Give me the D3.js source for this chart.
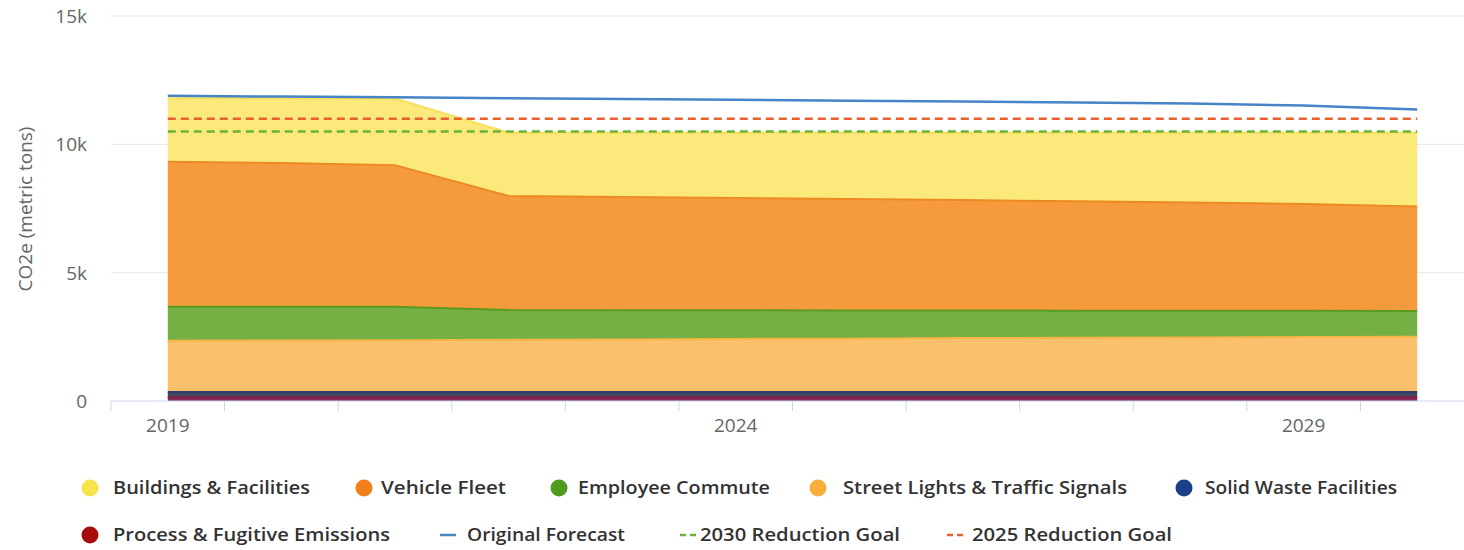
<!DOCTYPE html>
<html>
<head>
<meta charset="utf-8">
<script src="https://cdn.jsdelivr.net/npm/d3@7/dist/d3.min.js"></script>
<style>
  html, body { margin: 0; padding: 0; background: #fff; }
  svg { display: block; font-family: "Open Sans", "DejaVu Sans", sans-serif; }
</style>
</head>
<body>
<script>
// Data (thousand metric tons CO2e)
const years = [2019, 2020, 2021, 2022, 2023, 2024, 2025, 2026, 2027, 2028, 2029, 2030];
const yearLabels = [2019, 2024, 2029];

const buildings    = [2.48, 2.53, 2.60, 2.46, 2.50, 2.54, 2.58, 2.62, 2.67, 2.72, 2.77, 2.87];
const vehicleFleet = [5.65, 5.60, 5.52, 4.44, 4.41, 4.37, 4.34, 4.30, 4.26, 4.21, 4.16, 4.07];
const commute      = [1.32, 1.31, 1.30, 1.16, 1.14, 1.12, 1.10, 1.08, 1.06, 1.05, 1.03, 1.01];
const streetLights = [2.00, 2.01, 2.02, 2.04, 2.05, 2.07, 2.08, 2.10, 2.11, 2.12, 2.14, 2.15];
const solidWaste   = [0.20, 0.20, 0.20, 0.20, 0.20, 0.20, 0.20, 0.20, 0.20, 0.20, 0.20, 0.20];
const processEm    = [0.15, 0.15, 0.15, 0.15, 0.15, 0.15, 0.15, 0.15, 0.15, 0.15, 0.15, 0.15];

const originalForecast = [11.89, 11.86, 11.83, 11.80, 11.77, 11.74, 11.70, 11.67, 11.63, 11.59, 11.51, 11.36];
const goal2030 = [10.5, 10.5, 10.5, 10.5, 10.5, 10.5, 10.5, 10.5, 10.5, 10.5, 10.5, 10.5];
const goal2025 = [11.0, 11.0, 11.0, 11.0, 11.0, 11.0, 11.0, 11.0, 11.0, 11.0, 11.0, 11.0];

const yTicks = [0, 5, 10, 15];

// series config, bottom of stack first
const areaSeries = [
  { key: "process",      name: "Process & Fugitive Emissions",   values: processEm,    fill: "#7e2d5c", line: "#8a1c40", legend: "#a50d0d" },
  { key: "solidWaste",   name: "Solid Waste Facilities",         values: solidWaste,   fill: "#3e4a64", line: "#2c3f6c", legend: "#1d3f8a" },
  { key: "streetLights", name: "Street Lights & Traffic Signals", values: streetLights, fill: "#fbc06b", line: "#f8b447", legend: "#f7ae3b" },
  { key: "commute",      name: "Employee Commute",               values: commute,      fill: "#74b044", line: "#5b9a1e", legend: "#4f9b1d" },
  { key: "vehicle",      name: "Vehicle Fleet",                  values: vehicleFleet, fill: "#f59a3d", line: "#ec8a24", legend: "#f07e1b" },
  { key: "buildings",    name: "Buildings & Facilities",         values: buildings,    fill: "#fbe97b", line: "#f6df5a", legend: "#f8e34c" }
];

const lineSeries = [
  { name: "Original Forecast",   values: originalForecast, color: "#4684c6", dash: null },
  { name: "2030 Reduction Goal", values: goal2030,         color: "#6cb23a", dash: "8,5" },
  { name: "2025 Reduction Goal", values: goal2025,         color: "#e8602f", dash: "8,5" }
];

const width = 1464, height = 550;
const plotLeft = 111, plotRight = 1474, plotTop = 16, plotBottom = 401;

const svg = d3.select("body").append("svg")
  .attr("width", width)
  .attr("height", height);

const x = d3.scaleBand().domain(years).range([plotLeft, plotRight]);
const cx = d => x(d) + x.bandwidth() / 2;
const y = d3.scaleLinear().domain([0, 15]).range([plotBottom, plotTop]);

// gridlines
svg.append("g")
  .selectAll("line")
  .data(yTicks.filter(t => t > 0))
  .join("line")
  .attr("x1", plotLeft).attr("x2", width)
  .attr("y1", d => y(d)).attr("y2", d => y(d))
  .attr("stroke", "#e6e6e6").attr("stroke-width", 1);

// y axis labels
const yAxis = d3.axisLeft(y).tickValues(yTicks).tickSize(0).tickPadding(0)
  .tickFormat(d => d === 0 ? "0" : d + "k");
svg.append("g")
  .attr("transform", "translate(87,0)")
  .call(yAxis)
  .call(g => g.select(".domain").remove())
  .call(g => g.selectAll("text")
    .attr("fill", "#666").attr("font-size", 19).attr("dy", "0.35em")
    .style("font-family", "'Open Sans', sans-serif"));

// y axis title
svg.append("text")
  .attr("transform", "translate(32,209) rotate(-90)")
  .attr("text-anchor", "middle")
  .attr("fill", "#666")
  .attr("font-size", 19)
  .text("CO2e (metric tons)");

// stacked areas
const table = years.map((yr, i) => {
  const row = { year: yr };
  areaSeries.forEach(s => { row[s.key] = s.values[i]; });
  return row;
});
const stack = d3.stack().keys(areaSeries.map(s => s.key));
const layers = stack(table);

const area = d3.area()
  .x(d => cx(d.data.year))
  .y0(d => y(d[0]))
  .y1(d => y(d[1]));
const topLine = d3.line()
  .x(d => cx(d.data.year))
  .y(d => y(d[1]));

const gAreas = svg.append("g");
layers.forEach((layer, i) => {
  gAreas.append("path")
    .datum(layer)
    .attr("d", area)
    .attr("fill", areaSeries[i].fill);
});
layers.forEach((layer, i) => {
  gAreas.append("path")
    .datum(layer)
    .attr("d", topLine)
    .attr("fill", "none")
    .attr("stroke", areaSeries[i].line)
    .attr("stroke-width", 2);
});

// x axis
const xAxisG = svg.append("g").attr("transform", `translate(0,${plotBottom})`);
xAxisG.append("line")
  .attr("x1", plotLeft).attr("x2", width)
  .attr("stroke", "#ccd6eb").attr("stroke-width", 1);
const tickXs = years.map(yr => x(yr)).concat([plotRight]);
xAxisG.selectAll("line.tick")
  .data(tickXs)
  .join("line")
  .attr("class", "tick")
  .attr("x1", d => d).attr("x2", d => d)
  .attr("y1", 0).attr("y2", 10)
  .attr("stroke", "#ccd6eb");
xAxisG.selectAll("text")
  .data(yearLabels)
  .join("text")
  .attr("x", d => cx(d))
  .attr("y", 31)
  .attr("text-anchor", "middle")
  .attr("fill", "#666")
  .attr("font-size", 19)
  .text(d => d);

// lines
const line = d3.line().x((d, i) => cx(years[i])).y(d => y(d));
lineSeries.forEach(s => {
  svg.append("path")
    .datum(s.values)
    .attr("d", line)
    .attr("fill", "none")
    .attr("stroke", s.color)
    .attr("stroke-width", 2.5)
    .attr("stroke-dasharray", s.dash);
});

// legend (layout: symbol x, text x, text width, row)
const legendItems = [
  { s: areaSeries[5], type: "dot",  sx: 90,   tx: 113,  w: 197, row: 0 },
  { s: areaSeries[4], type: "dot",  sx: 364,  tx: 381,  w: 125, row: 0 },
  { s: areaSeries[3], type: "dot",  sx: 559,  tx: 578,  w: 192, row: 0 },
  { s: areaSeries[2], type: "dot",  sx: 818,  tx: 843,  w: 284, row: 0 },
  { s: areaSeries[1], type: "dot",  sx: 1184, tx: 1205, w: 192, row: 0 },
  { s: areaSeries[0], type: "dot",  sx: 90,   tx: 113,  w: 277, row: 1 },
  { s: lineSeries[0], type: "line", sx: 448,  tx: 467,  w: 158, row: 1 },
  { s: lineSeries[1], type: "line", sx: 688,  tx: 700,  w: 200, row: 1 },
  { s: lineSeries[2], type: "line", sx: 955,  tx: 972,  w: 200, row: 1 }
];
const rowY = [488, 535];
const gLegend = svg.append("g");
legendItems.forEach(it => {
  const cy = rowY[it.row];
  if (it.type === "dot") {
    gLegend.append("circle")
      .attr("cx", it.sx).attr("cy", cy).attr("r", 8.5)
      .attr("fill", it.s.legend);
  } else {
    gLegend.append("line")
      .attr("x1", it.sx - 8).attr("x2", it.sx + 8)
      .attr("y1", cy).attr("y2", cy)
      .attr("stroke", it.s.color).attr("stroke-width", 2.5)
      .attr("stroke-dasharray", it.s.dash ? "6,4" : null);
  }
  gLegend.append("text")
    .attr("x", it.tx).attr("y", cy)
    .attr("dy", "0.35em")
    .attr("fill", "#333")
    .attr("font-size", 18)
    .attr("font-weight", 600)
    .attr("textLength", it.w)
    .attr("lengthAdjust", "spacingAndGlyphs")
    .text(it.s.name);
});
</script>
</body>
</html>
